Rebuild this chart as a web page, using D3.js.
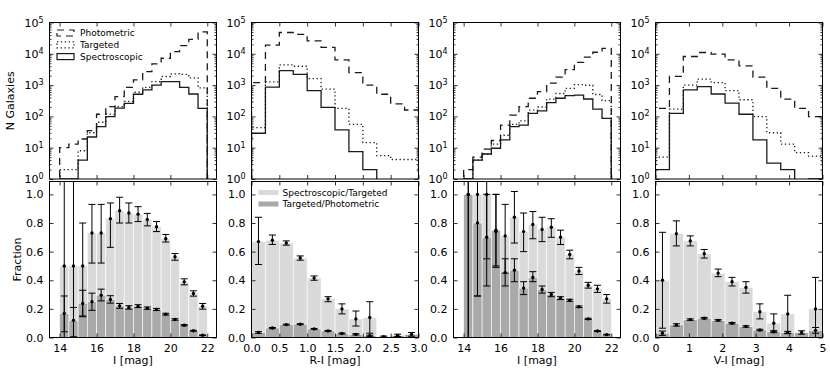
<!DOCTYPE html>
<html>
<head>
<meta charset="utf-8">
<script src="https://cdnjs.cloudflare.com/ajax/libs/d3/7.8.5/d3.min.js"></script>
<style>
  body { margin: 0; background: #fff; }
  text { font-family: "DejaVu Sans", sans-serif; }
</style>
</head>
<body>
<div id="chart"></div>
<script>
// bin edges
var iEdges  = [14.0, 14.5, 15.0, 15.5, 16.0, 16.5, 17.0, 17.5, 18.0, 18.5, 19.0, 19.5, 20.0, 20.5, 21.0, 21.5, 22.0];
var riEdges = [0, 0.25, 0.5, 0.75, 1.0, 1.25, 1.5, 1.75, 2.0, 2.25, 2.5, 2.75, 3.0];
var viEdges = [0, 0.417, 0.833, 1.25, 1.667, 2.083, 2.5, 2.917, 3.333, 3.75, 4.167, 4.583, 5.0];

// panel 1 : I
var p1Phot = [10, 13, 19, 35, 117, 205, 430, 850, 1470, 2700, 4800, 7200, 11800, 18300, 29000, 50000];
var p1Targ = [2, 2, 8, 30, 65, 118, 206, 300, 590, 850, 1290, 1880, 2300, 2200, 1690, 820];
var p1Spec = [1, 1, 4, 22, 47, 98, 183, 262, 510, 700, 1000, 1300, 1300, 850, 520, 180];
var p1SpecFrac = [0.5, 0.5, 0.5, 0.73, 0.73, 0.83, 0.886, 0.87, 0.862, 0.825, 0.774, 0.69, 0.564, 0.389, 0.308, 0.219];
var p1SpecLo   = [0, 0, 0.15, 0.52, 0.52, 0.63, 0.80, 0.80, 0.81, 0.78, 0.74, 0.667, 0.54, 0.368, 0.289, 0.198];
var p1SpecHi   = [1.2, 1.2, 0.80, 0.93, 0.93, 0.94, 0.98, 0.94, 0.914, 0.867, 0.81, 0.72, 0.587, 0.41, 0.326, 0.238];
var p1TargFrac = [0.168, 0.12, 0.238, 0.25, 0.296, 0.266, 0.221, 0.21, 0.219, 0.205, 0.196, 0.163, 0.126, 0.086, 0.047, 0.016];
var p1TargLo   = [0.04, 0.005, 0.145, 0.19, 0.256, 0.24, 0.204, 0.198, 0.209, 0.197, 0.189, 0.157, 0.121, 0.082, 0.044, 0.014];
var p1TargHi   = [0.29, 0.21, 0.33, 0.31, 0.338, 0.292, 0.238, 0.222, 0.229, 0.213, 0.203, 0.169, 0.131, 0.09, 0.05, 0.018];

// panel 2 : R-I
var p2Phot = [1200, 19000, 48000, 42000, 26000, 16000, 6400, 2500, 1000, 510, 250, 160];
var p2Targ = [44, 1260, 4400, 4000, 1600, 740, 180, 56, 14.5, 5.6, 4.2, 4.2];
var p2Spec = [29, 860, 2900, 2200, 670, 195, 37, 7.5, 2, 0, 0, 0];
var p2SpecFrac = [0.67, 0.68, 0.66, 0.555, 0.415, 0.27, 0.20, 0.13, 0.14, null, null, null];
var p2SpecLo   = [0.51, 0.65, 0.645, 0.54, 0.40, 0.25, 0.165, 0.08, 0.03, null, null, null];
var p2SpecHi   = [0.84, 0.716, 0.675, 0.57, 0.43, 0.285, 0.235, 0.185, 0.25, null, null, null];
var p2TargFrac = [0.035, 0.066, 0.09, 0.093, 0.06, 0.046, 0.028, 0.022, 0.012, 0.006, 0.015, 0.022];
var p2TargLo   = [0.029, 0.062, 0.087, 0.09, 0.057, 0.043, 0.025, 0.018, 0.008, 0.002, 0.007, 0.009];
var p2TargHi   = [0.041, 0.07, 0.093, 0.096, 0.063, 0.049, 0.031, 0.026, 0.016, 0.01, 0.023, 0.035];

// panel 3 : I (second sample)
var p3Phot = [2, 5, 9, 17, 53, 110, 205, 380, 620, 1150, 1800, 3100, 5300, 7800, 11200, 15000];
var p3Targ = [1, 4, 6.3, 13, 25, 56, 72, 158, 200, 357, 540, 790, 1030, 990, 500, 320];
var p3Spec = [1, 4, 6.3, 9.6, 17.7, 47, 53, 125, 150, 275, 380, 460, 480, 360, 170, 87];
var p3SpecFrac = [1.0, 1.0, 1.0, 0.74, 0.71, 0.84, 0.74, 0.79, 0.755, 0.77, 0.70, 0.58, 0.465, 0.365, 0.34, 0.27];
var p3SpecLo   = [0, 0.29, 0.55, 0.49, 0.45, 0.66, 0.60, 0.69, 0.67, 0.70, 0.65, 0.55, 0.44, 0.345, 0.315, 0.24];
var p3SpecHi   = [1.2, 1.2, 1.2, 1.0, 0.93, 1.02, 0.87, 0.88, 0.84, 0.83, 0.75, 0.61, 0.49, 0.385, 0.365, 0.30];
var p3TargFrac = [1.0, 0.8, 0.7, 0.75, 0.455, 0.47, 0.345, 0.42, 0.335, 0.30, 0.275, 0.26, 0.215, 0.13, 0.045, 0.02];
var p3TargLo   = [0, 0.29, 0.36, 0.5, 0.36, 0.39, 0.30, 0.39, 0.31, 0.285, 0.265, 0.253, 0.21, 0.126, 0.042, 0.018];
var p3TargHi   = [1.2, 1.2, 1.0, 1.0, 0.55, 0.55, 0.39, 0.46, 0.36, 0.315, 0.285, 0.267, 0.22, 0.134, 0.048, 0.022];

// panel 4 : V-I
var p4Phot = [180, 1900, 8200, 11000, 9800, 6400, 4100, 1800, 790, 355, 180, 98];
var p4Targ = [5, 170, 1000, 1550, 1200, 670, 340, 98, 30, 13, 7, 5.4];
var p4Spec = [2, 125, 700, 900, 520, 265, 117, 17.7, 3.2, 2, 0, 1];
var p4SpecFrac = [0.40, 0.725, 0.675, 0.585, 0.45, 0.39, 0.35, 0.18, 0.10, 0.165, null, 0.2];
var p4SpecLo   = [0.065, 0.64, 0.64, 0.555, 0.425, 0.36, 0.31, 0.13, 0.045, 0.03, null, 0];
var p4SpecHi   = [0.735, 0.815, 0.71, 0.615, 0.478, 0.42, 0.39, 0.235, 0.165, 0.295, null, 0.42];
var p4TargFrac = [0.03, 0.088, 0.125, 0.135, 0.12, 0.10, 0.077, 0.052, 0.04, 0.035, 0.035, 0.05];
var p4TargLo   = [0.015, 0.08, 0.12, 0.13, 0.115, 0.095, 0.072, 0.047, 0.034, 0.027, 0.023, 0.03];
var p4TargHi   = [0.045, 0.096, 0.13, 0.14, 0.125, 0.105, 0.082, 0.057, 0.046, 0.043, 0.047, 0.07];

var logTicks = [1, 10, 100, 1000, 10000, 100000];
var fracTicks = [0, 0.2, 0.4, 0.6, 0.8, 1.0];
var histLabels = ["Photometric", "Targeted", "Spectroscopic"];
var fracLabels = ["Spectroscopic/Targeted", "Targeted/Photometric"];

var panels = [
  {edges: iEdges, domain: [13.45, 22.5], ticks: [14, 16, 18, 20, 22], fmt: d3.format("d"), xlabel: "I [mag]",
   phot: p1Phot, targ: p1Targ, spec: p1Spec, sf: p1SpecFrac, sfLo: p1SpecLo, sfHi: p1SpecHi, tf: p1TargFrac, tfLo: p1TargLo, tfHi: p1TargHi},
  {edges: riEdges, domain: [0, 3], ticks: [0, 0.5, 1, 1.5, 2, 2.5, 3], fmt: d3.format(".1f"), xlabel: "R-I [mag]",
   phot: p2Phot, targ: p2Targ, spec: p2Spec, sf: p2SpecFrac, sfLo: p2SpecLo, sfHi: p2SpecHi, tf: p2TargFrac, tfLo: p2TargLo, tfHi: p2TargHi},
  {edges: iEdges, domain: [13.45, 22.5], ticks: [14, 16, 18, 20, 22], fmt: d3.format("d"), xlabel: "I [mag]",
   phot: p3Phot, targ: p3Targ, spec: p3Spec, sf: p3SpecFrac, sfLo: p3SpecLo, sfHi: p3SpecHi, tf: p3TargFrac, tfLo: p3TargLo, tfHi: p3TargHi},
  {edges: viEdges, domain: [0, 5], ticks: [0, 1, 2, 3, 4, 5], fmt: d3.format("d"), xlabel: "V-I [mag]",
   phot: p4Phot, targ: p4Targ, spec: p4Spec, sf: p4SpecFrac, sfLo: p4SpecLo, sfHi: p4SpecHi, tf: p4TargFrac, tfLo: p4TargLo, tfHi: p4TargHi}
];

var left0 = 49.5, step = 202, pw = 167;
var topTop = 22.5, topBot = 179, botTop = 181.5, botBot = 337.5;
var lightCol = "#dadada", darkCol = "#a9a9a9", lineCol = "#1a1a1a";
var styles = {phot: "7,5", targ: "1.3,2.6", spec: null};

var svg = d3.select("#chart").append("svg")
    .attr("width", 830)
    .attr("height", 375);

function styleAxis(g, size) {
  g.select(".domain").remove();
  g.selectAll("line").attr("stroke", "#000").attr("stroke-width", 0.8);
  g.attr("font-family", "DejaVu Sans, sans-serif").attr("font-size", size || 11);
  g.selectAll("text").attr("fill", "#000");
}

panels.forEach(function(p, k) {
  var left = left0 + k * step, right = left + pw;
  var x = d3.scaleLinear().domain(p.domain).range([left, right]);
  var yl = d3.scaleLog().domain([1, 1e5]).range([topBot, topTop]);
  var yf = d3.scaleLinear().domain([0, 1.09]).range([botBot, botTop]);
  var nb = p.edges.length - 1;
  var bins = d3.range(nb);

  svg.append("clipPath").attr("id", "ct" + k)
    .append("rect").attr("x", left).attr("y", topTop).attr("width", pw).attr("height", topBot - topTop);
  svg.append("clipPath").attr("id", "cb" + k)
    .append("rect").attr("x", left).attr("y", botTop).attr("width", pw).attr("height", botBot - botTop);

  // ---- top: step histograms
  var gt = svg.append("g").attr("clip-path", "url(#ct" + k + ")");
  ["phot", "targ", "spec"].forEach(function(key) {
    var vals = p[key];
    var yv = function(v) { return v > 0 ? yl(v) : topBot + 10; };
    var pts = [[x(p.edges[0]), topBot + 10]];
    vals.forEach(function(v, i) {
      pts.push([x(p.edges[i]), yv(v)]);
      pts.push([x(p.edges[i + 1]), yv(v)]);
    });
    pts.push([x(p.edges[nb]), topBot + 10]);
    gt.append("path")
      .attr("d", d3.line()(pts))
      .attr("fill", "none")
      .attr("stroke", lineCol)
      .attr("stroke-width", 1.3)
      .attr("stroke-dasharray", styles[key]);
  });

  // ---- bottom: fraction bars
  var gb = svg.append("g").attr("clip-path", "url(#cb" + k + ")");
  gb.selectAll("rect.light")
    .data(bins.filter(function(i) { return p.sf[i] != null && p.sf[i] > 0; }))
    .enter().append("rect")
      .attr("x", function(i) { return x(p.edges[i]); })
      .attr("width", function(i) { return x(p.edges[i + 1]) - x(p.edges[i]); })
      .attr("y", function(i) { return yf(p.sf[i]); })
      .attr("height", function(i) { return botBot - yf(p.sf[i]); })
      .attr("fill", lightCol).attr("stroke", "#fff").attr("stroke-width", 0.6);
  gb.selectAll("rect.dark")
    .data(bins.filter(function(i) { return p.tf[i] != null && p.tf[i] > 0; }))
    .enter().append("rect")
      .attr("x", function(i) { return x(p.edges[i]); })
      .attr("width", function(i) { return x(p.edges[i + 1]) - x(p.edges[i]); })
      .attr("y", function(i) { return yf(p.tf[i]); })
      .attr("height", function(i) { return botBot - yf(p.tf[i]); })
      .attr("fill", darkCol).attr("stroke", "#fff").attr("stroke-width", 0.6);

  function errbars(vals, lo, hi) {
    bins.forEach(function(i) {
      if (vals[i] == null) return;
      var cx = x((p.edges[i] + p.edges[i + 1]) / 2);
      var g = gb.append("g").attr("stroke", "#000").attr("stroke-width", 1);
      g.append("line").attr("x1", cx).attr("x2", cx).attr("y1", yf(lo[i])).attr("y2", yf(hi[i]));
      [lo[i], hi[i]].forEach(function(v) {
        g.append("line").attr("x1", cx - 3.5).attr("x2", cx + 3.5).attr("y1", yf(v)).attr("y2", yf(v));
      });
      gb.append("circle").attr("cx", cx).attr("cy", yf(vals[i])).attr("r", 1.7).attr("fill", "#000");
    });
  }
  errbars(p.sf, p.sfLo, p.sfHi);
  errbars(p.tf, p.tfLo, p.tfHi);

  // ---- axes, top panel
  svg.append("g").attr("transform", "translate(0," + topBot + ")")
    .call(d3.axisBottom(x).tickValues(p.ticks).tickSize(-4).tickFormat(""))
    .call(styleAxis);
  svg.append("g").attr("transform", "translate(0," + topTop + ")")
    .call(d3.axisTop(x).tickValues(p.ticks).tickSize(-4).tickFormat(""))
    .call(styleAxis);
  var minors = [];
  logTicks.slice(0, 5).forEach(function(d) { [2, 3, 4, 5, 6, 7, 8, 9].forEach(function(m) { minors.push(d * m); }); });
  svg.append("g").attr("transform", "translate(" + left + ",0)")
    .call(d3.axisLeft(yl).tickValues(minors).tickSize(-2).tickFormat(""))
    .call(styleAxis);
  svg.append("g").attr("transform", "translate(" + right + ",0)")
    .call(d3.axisRight(yl).tickValues(minors).tickSize(-2).tickFormat(""))
    .call(styleAxis);
  svg.append("g").attr("transform", "translate(" + right + ",0)")
    .call(d3.axisRight(yl).tickValues(logTicks).tickSize(-4).tickFormat(""))
    .call(styleAxis);
  var ly = svg.append("g").attr("transform", "translate(" + left + ",0)")
    .call(d3.axisLeft(yl).tickValues(logTicks).tickSize(-4).tickPadding(6).tickFormat(function() { return ""; }))
    .call(styleAxis);
  ly.selectAll(".tick text").each(function(d) {
    var t = d3.select(this);
    t.text("10");
    t.append("tspan").attr("dy", "-0.5em").attr("font-size", 8).text(Math.round(Math.log10(d)));
  });

  // ---- axes, bottom panel
  svg.append("g").attr("transform", "translate(0," + botBot + ")")
    .call(d3.axisBottom(x).tickValues(p.ticks).tickSize(-4).tickPadding(6.5).tickFormat(p.fmt))
    .call(styleAxis);
  svg.append("g").attr("transform", "translate(0," + botTop + ")")
    .call(d3.axisTop(x).tickValues(p.ticks).tickSize(-4).tickFormat(""))
    .call(styleAxis);
  svg.append("g").attr("transform", "translate(" + left + ",0)")
    .call(d3.axisLeft(yf).tickValues(fracTicks).tickSize(-4).tickPadding(6).tickFormat(d3.format(".1f")))
    .call(styleAxis);
  svg.append("g").attr("transform", "translate(" + right + ",0)")
    .call(d3.axisRight(yf).tickValues(fracTicks).tickSize(-4).tickFormat(""))
    .call(styleAxis);

  // frames
  [[topTop, topBot], [botTop, botBot]].forEach(function(r) {
    svg.append("rect").attr("x", left).attr("y", r[0]).attr("width", pw).attr("height", r[1] - r[0])
      .attr("fill", "none").attr("stroke", "#000").attr("stroke-width", 1);
  });

  svg.append("text")
    .attr("x", (left + right) / 2).attr("y", 364)
    .attr("text-anchor", "middle").attr("font-size", 11)
    .text(p.xlabel);
});

// y-axis titles
svg.append("text")
  .attr("transform", "translate(14," + (topTop + topBot) / 2 + ") rotate(-90)")
  .attr("text-anchor", "middle").attr("font-size", 11)
  .text("N Galaxies");
svg.append("text")
  .attr("transform", "translate(21," + (botTop + botBot) / 2 + ") rotate(-90)")
  .attr("text-anchor", "middle").attr("font-size", 11)
  .text("Fraction");

// legend, top-left panel
var lg = svg.append("g");
["phot", "targ", "spec"].forEach(function(key, i) {
  var cy = 33 + i * 11.8;
  lg.append("rect").attr("x", 57).attr("y", cy - 3).attr("width", 17).attr("height", 6)
    .attr("fill", "none").attr("stroke", lineCol).attr("stroke-width", 1.2)
    .attr("stroke-dasharray", styles[key]);
  lg.append("text").attr("x", 80).attr("y", cy + 3.2).attr("font-size", 9).text(histLabels[i]);
});

// legend, second bottom panel
var lg2 = svg.append("g");
[lightCol, darkCol].forEach(function(c, i) {
  var cy = 192.5 + i * 11.5;
  var lx = left0 + step + 7;
  lg2.append("rect").attr("x", lx).attr("y", cy - 2.5).attr("width", 20).attr("height", 5).attr("fill", c);
  lg2.append("text").attr("x", lx + 24).attr("y", cy + 3.2).attr("font-size", 9).text(fracLabels[i]);
});
</script>
</body>
</html>
